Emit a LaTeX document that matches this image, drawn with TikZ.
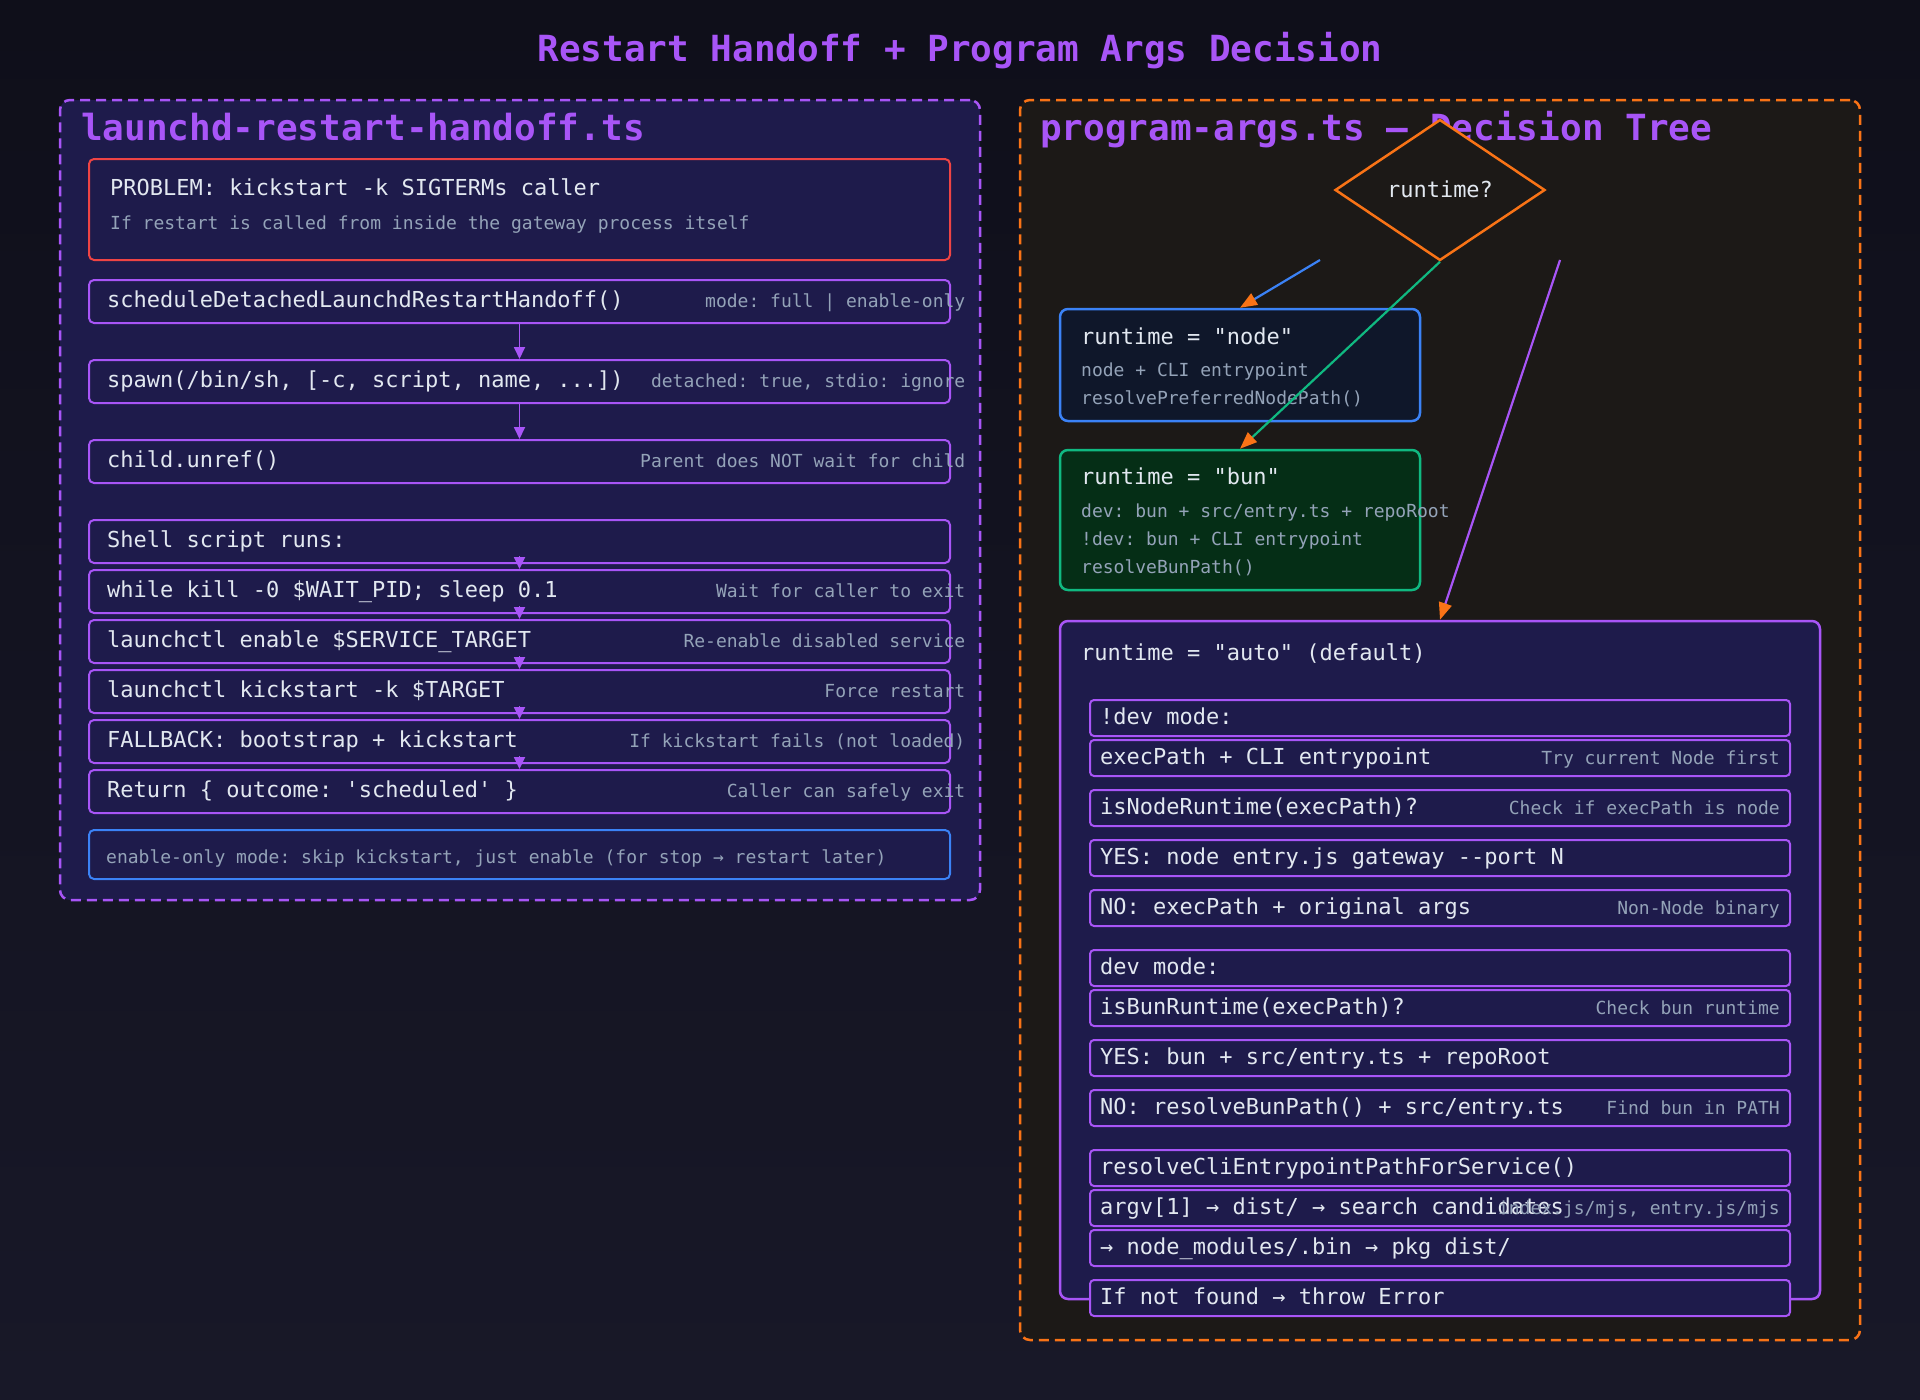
\documentclass[tikz,border=0pt]{standalone}
\usepackage{fontspec}
\setmainfont[Ligatures=TeXOff]{DejaVu Sans Mono}
\frenchspacing
\usetikzlibrary{arrows.meta,shapes.geometric}
\definecolor{bgA}{HTML}{0F0F1A}
\definecolor{bgB}{HTML}{181828}
\definecolor{navy}{HTML}{1E1B4B}
\definecolor{stone}{HTML}{1C1917}
\definecolor{purp}{HTML}{A855F7}
\definecolor{orng}{HTML}{F97316}
\definecolor{blu}{HTML}{3B82F6}
\definecolor{grn}{HTML}{10B981}
\definecolor{redc}{HTML}{EF4444}
\definecolor{fgc}{HTML}{E2E8F0}
\definecolor{muted}{HTML}{94A3B8}
\definecolor{nodebg}{HTML}{0F172A}
\definecolor{bunbg}{HTML}{052E16}
\tikzset{
  panel/.style={line width=2.5pt, dash pattern=on 10pt off 6pt, rounded corners=10pt, inner sep=0pt},
  lbox/.style={draw=purp, fill=navy, line width=2pt, rounded corners=5pt, inner sep=0pt, minimum width=861pt, minimum height=43pt},
  ibox/.style={draw=purp, fill=navy, line width=2pt, rounded corners=4pt, inner sep=0pt, minimum width=700pt, minimum height=36pt},
  bigbox/.style={line width=2.5pt, rounded corners=8pt, inner sep=0pt},
  ttl/.style={font=\fontsize{36}{42}\selectfont\bfseries, text=purp, inner sep=0pt},
  mt/.style={font=\fontsize{22}{26}\selectfont, text=fgc, inner sep=0pt},
  an/.style={font=\fontsize{18}{22}\selectfont, text=muted, inner sep=0pt},
  larr/.style={draw=purp, line width=1.8pt, -{Triangle[length=12pt,width=11pt]}},
  darr/.style={line width=2.2pt, -{Triangle[length=17pt,width=13pt,color=orng]}},
}
\begin{document}
\begin{tikzpicture}[x=1pt,y=-1pt]
\useasboundingbox (0,0) rectangle (1920,1400);
\shade[top color=bgA, bottom color=bgB] (0,0) rectangle (1920,1400);

% main title
\node[ttl, anchor=base] (title) at (960,61) {Restart Handoff + Program Args Decision};

% ---------------- left panel ----------------
\node[panel, draw=purp, fill=navy, minimum width=920pt, minimum height=800pt] (lpanel) at (520,500) {};
\node[ttl, anchor=base west] (ltitle) at (81,140) {launchd-restart-handoff.ts};

\node[lbox, draw=redc, minimum height=101pt] (prob) at (519.5,209.5) {};
\node[mt, anchor=base west] (probt) at (110,195) {PROBLEM: kickstart -k SIGTERMs caller};
\node[an, anchor=base west] (probs) at (110,229) {If restart is called from inside the gateway process itself};

\node[lbox] (b1) at (519.5,301.5) {};
\node[mt, anchor=base west] (b1t) at (107,307.5) {scheduleDetachedLaunchdRestartHandoff()};
\node[an, anchor=base east] (b1a) at (965.5,307.5) {mode: full | enable-only};

\node[lbox] (b2) at (519.5,381.5) {};
\node[mt, anchor=base west] (b2t) at (107,387.5) {spawn(/bin/sh, [-c, script, name, ...])};
\node[an, anchor=base east] (b2a) at (965.5,387.5) {detached: true, stdio: ignore};

\node[lbox] (b3) at (519.5,461.5) {};
\node[mt, anchor=base west] (b3t) at (107,467.5) {child.unref()};
\node[an, anchor=base east] (b3a) at (965.5,467.5) {Parent does NOT wait for child};

\node[lbox] (s0) at (519.5,541.5) {};
\node[mt, anchor=base west] (s0t) at (107,547.5) {Shell script runs:};

\node[lbox] (s1) at (519.5,591.5) {};
\node[mt, anchor=base west] (s1t) at (107,597.5) {while kill -0 \$WAIT\_PID; sleep 0.1};
\node[an, anchor=base east] (s1a) at (965.5,597.5) {Wait for caller to exit};

\node[lbox] (s2) at (519.5,641.5) {};
\node[mt, anchor=base west] (s2t) at (107,647.5) {launchctl enable \$SERVICE\_TARGET};
\node[an, anchor=base east] (s2a) at (965.5,647.5) {Re-enable disabled service};

\node[lbox] (s3) at (519.5,691.5) {};
\node[mt, anchor=base west] (s3t) at (107,697.5) {launchctl kickstart -k \$TARGET};
\node[an, anchor=base east] (s3a) at (965.5,697.5) {Force restart};

\node[lbox] (s4) at (519.5,741.5) {};
\node[mt, anchor=base west] (s4t) at (107,747.5) {FALLBACK: bootstrap + kickstart};
\node[an, anchor=base east] (s4a) at (965.5,747.5) {If kickstart fails (not loaded)};

\node[lbox] (s5) at (519.5,791.5) {};
\node[mt, anchor=base west] (s5t) at (107,797.5) {Return \{ outcome: 'scheduled' \}};
\node[an, anchor=base east] (s5a) at (965.5,797.5) {Caller can safely exit};

\node[lbox, draw=blu, minimum height=49pt] (eo) at (519.5,854.5) {};
\node[an, anchor=base west] (eot) at (106,863) {enable-only mode: skip kickstart, just enable (for stop → restart later)};

\draw[larr] (b1.south) -- (b2.north);
\draw[larr] (b2.south) -- (b3.north);
\draw[larr] ([yshift=8pt]s0.south) -- (s1.north);
\draw[larr] ([yshift=8pt]s1.south) -- (s2.north);
\draw[larr] ([yshift=8pt]s2.south) -- (s3.north);
\draw[larr] ([yshift=8pt]s3.south) -- (s4.north);
\draw[larr] ([yshift=8pt]s4.south) -- (s5.north);

% ---------------- right panel ----------------
\node[panel, draw=orng, fill=stone, minimum width=840pt, minimum height=1240pt] (rpanel) at (1440,720) {};
\node[ttl, anchor=base west] (rtitle) at (1040,140) {program-args.ts — Decision Tree};

\node[diamond, draw=orng, fill=stone, line width=2.5pt, inner sep=0pt, aspect=1.5, minimum width=210pt, minimum height=141pt] (dia) at (1440,190) {};
\node[mt, anchor=base] (diat) at (1440,197) {runtime?};

% node box
\node[bigbox, draw=blu, fill=nodebg, minimum width=360pt, minimum height=112pt] (nodeb) at (1240,365) {};
\node[mt, anchor=base west] (nodet) at (1081,344) {runtime = "node"};
\node[an, anchor=base west] (node1) at (1081,376) {node + CLI entrypoint};
\node[an, anchor=base west] (node2) at (1081,404) {resolvePreferredNodePath()};

% bun box
\node[bigbox, draw=grn, fill=bunbg, minimum width=360pt, minimum height=140pt] (bunb) at (1240,520) {};
\node[mt, anchor=base west] (bunt) at (1081,484) {runtime = "bun"};
\node[an, anchor=base west] (bun1) at (1081,517) {dev: bun + src/entry.ts + repoRoot};
\node[an, anchor=base west] (bun2) at (1081,545) {!dev: bun + CLI entrypoint};
\node[an, anchor=base west] (bun3) at (1081,573) {resolveBunPath()};

% auto box
\node[bigbox, draw=purp, fill=navy, minimum width=760pt, minimum height=678pt] (autob) at (1440,960) {};
\node[mt, anchor=base west] (autot) at (1081,660) {runtime = "auto" (default)};

\node[ibox] (r1) at (1440,718) {};
\node[mt, anchor=base west] (r1t) at (1100,724) {!dev mode:};
\node[ibox] (r2) at (1440,758) {};
\node[mt, anchor=base west] (r2t) at (1100,764) {execPath + CLI entrypoint};
\node[an, anchor=base east] (r2a) at (1780,764) {Try current Node first};
\node[ibox] (r3) at (1440,808) {};
\node[mt, anchor=base west] (r3t) at (1100,814) {isNodeRuntime(execPath)?};
\node[an, anchor=base east] (r3a) at (1780,814) {Check if execPath is node};
\node[ibox] (r4) at (1440,858) {};
\node[mt, anchor=base west] (r4t) at (1100,864) {YES: node entry.js gateway --port N};
\node[ibox] (r5) at (1440,908) {};
\node[mt, anchor=base west] (r5t) at (1100,914) {NO: execPath + original args};
\node[an, anchor=base east] (r5a) at (1780,914) {Non-Node binary};

\node[ibox] (r6) at (1440,968) {};
\node[mt, anchor=base west] (r6t) at (1100,974) {dev mode:};
\node[ibox] (r7) at (1440,1008) {};
\node[mt, anchor=base west] (r7t) at (1100,1014) {isBunRuntime(execPath)?};
\node[an, anchor=base east] (r7a) at (1780,1014) {Check bun runtime};
\node[ibox] (r8) at (1440,1058) {};
\node[mt, anchor=base west] (r8t) at (1100,1064) {YES: bun + src/entry.ts + repoRoot};
\node[ibox] (r9) at (1440,1108) {};
\node[mt, anchor=base west] (r9t) at (1100,1114) {NO: resolveBunPath() + src/entry.ts};
\node[an, anchor=base east] (r9a) at (1780,1114) {Find bun in PATH};

\node[ibox] (r10) at (1440,1168) {};
\node[mt, anchor=base west] (r10t) at (1100,1174) {resolveCliEntrypointPathForService()};
\node[ibox] (r11) at (1440,1208) {};
\node[mt, anchor=base west] (r11t) at (1100,1214) {argv[1] → dist/ → search candidates};
\node[an, anchor=base east] (r11a) at (1780,1214) {index.js/mjs, entry.js/mjs};
\node[ibox] (r12) at (1440,1248) {};
\node[mt, anchor=base west] (r12t) at (1100,1254) {→ node\_modules/.bin → pkg dist/};
\node[ibox] (r13) at (1440,1298) {};
\node[mt, anchor=base west] (r13t) at (1100,1304) {If not found → throw Error};

% decision connectors
\coordinate (bstart) at (1320,260);
\coordinate (pstart) at (1560,260);
\draw[darr, draw=blu] (bstart) -- (nodeb.north);
\draw[darr, draw=grn] (dia.south) -- (bunb.north);
\draw[darr, draw=purp] (pstart) -- (autob.north);
\end{tikzpicture}
\end{document}
